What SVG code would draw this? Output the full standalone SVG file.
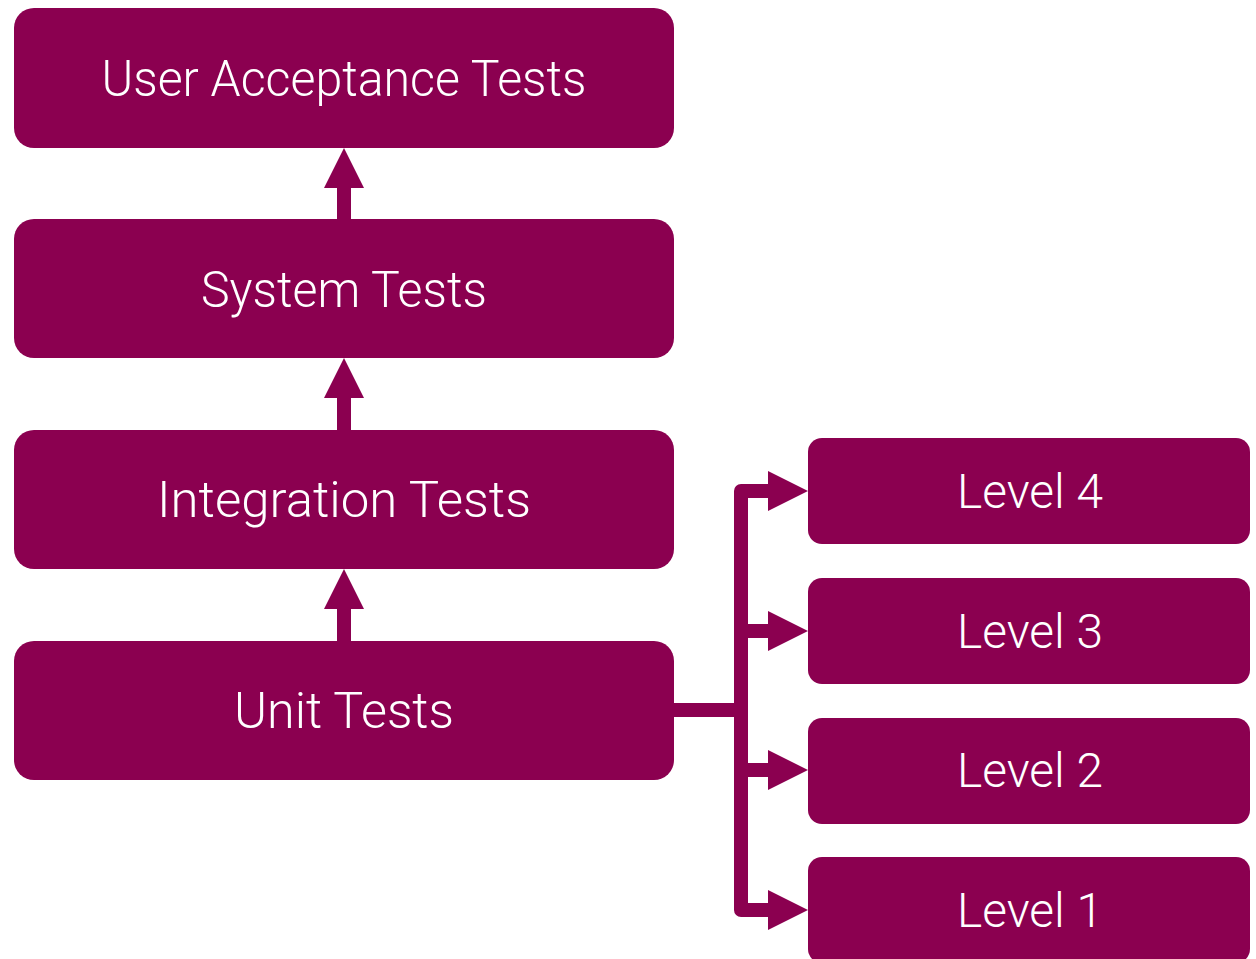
<svg xmlns="http://www.w3.org/2000/svg" width="1256" height="959" viewBox="0 0 1256 959">
<style>
.box{fill:#8B0050}
.t{fill:#fff;font-family:Roboto,"Open Sans",sans-serif;font-weight:300;text-anchor:middle}
.big{font-size:50px}
.lv{font-size:48px}
.ln{fill:none;stroke:#8B0050;stroke-width:14}
.ah{fill:#8B0050}
</style>
<rect width="1256" height="959" fill="#fff"/>
<g id="connectors">
<path class="ln" d="M344 188V219M344 398V430M344 609V641"/>
<polygon class="ah" points="344,148 364,188 324,188"/>
<polygon class="ah" points="344,358 364,398 324,398"/>
<polygon class="ah" points="344,569 364,609 324,609"/>
<path class="ln" d="M674 710H741"/>
<path class="ln" stroke-linejoin="round" d="M770 491H741V910H770"/>
<path class="ln" d="M741 631H770M741 770H770"/>
<polygon class="ah" points="808,491 768,471 768,511"/>
<polygon class="ah" points="808,631 768,611 768,651"/>
<polygon class="ah" points="808,770 768,750 768,790"/>
<polygon class="ah" points="808,910 768,890 768,930"/>
</g>
<g id="uat"><rect class="box" x="14" y="8" width="660" height="140" rx="20"/><text class="t big" x="344" y="96" textLength="485" lengthAdjust="spacingAndGlyphs">User Acceptance Tests</text></g>
<g id="system"><rect class="box" x="14" y="219" width="660" height="139" rx="20"/><text class="t big" x="344" y="307" textLength="286" lengthAdjust="spacingAndGlyphs">System Tests</text></g>
<g id="integration"><rect class="box" x="14" y="430" width="660" height="139" rx="20"/><text class="t big" x="344" y="517" textLength="374" lengthAdjust="spacingAndGlyphs">Integration Tests</text></g>
<g id="unit"><rect class="box" x="14" y="641" width="660" height="139" rx="20"/><text class="t big" x="344" y="728" textLength="220" lengthAdjust="spacingAndGlyphs">Unit Tests</text></g>
<g id="level4"><rect class="box" x="808" y="438" width="442" height="106" rx="14"/><text class="t lv" x="1030" y="508" textLength="146" lengthAdjust="spacingAndGlyphs">Level 4</text></g>
<g id="level3"><rect class="box" x="808" y="578" width="442" height="106" rx="14"/><text class="t lv" x="1030" y="648" textLength="146" lengthAdjust="spacingAndGlyphs">Level 3</text></g>
<g id="level2"><rect class="box" x="808" y="718" width="442" height="106" rx="14"/><text class="t lv" x="1030" y="787" textLength="146" lengthAdjust="spacingAndGlyphs">Level 2</text></g>
<g id="level1"><rect class="box" x="808" y="857" width="442" height="106" rx="14"/><text class="t lv" x="1030" y="927" textLength="146" lengthAdjust="spacingAndGlyphs">Level 1</text></g>
</svg>
